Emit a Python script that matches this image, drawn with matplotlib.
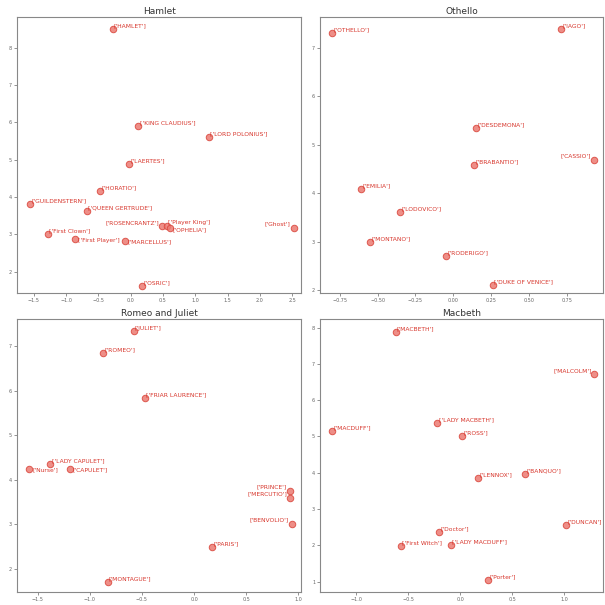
import matplotlib
matplotlib.use("Agg")
import matplotlib.pyplot as plt

# ---------------- data ----------------
hamlet_names = ["HAMLET", "KING CLAUDIUS", "LORD POLONIUS", "LAERTES", "HORATIO",
                "GUILDENSTERN", "QUEEN GERTRUDE", "ROSENCRANTZ", "Player King",
                "OPHELIA", "Ghost", "First Clown", "First Player", "MARCELLUS", "OSRIC"]
hamlet_x = [-0.28, 0.12, 1.21, -0.02, -0.48, -1.56, -0.68, 0.49, 0.56, 0.61, 2.52,
            -1.28, -0.86, -0.09, 0.17]
hamlet_y = [8.50, 5.91, 5.62, 4.89, 4.17, 3.82, 3.62, 3.21, 3.22, 3.16, 3.18,
            3.01, 2.87, 2.83, 1.62]

othello_names = ["OTHELLO", "IAGO", "DESDEMONA", "CASSIO", "BRABANTIO", "EMILIA",
                 "LODOVICO", "MONTANO", "RODERIGO", "DUKE OF VENICE"]
othello_x = [-0.80, 0.71, 0.15, 0.93, 0.14, -0.61, -0.35, -0.55, -0.05, 0.26]
othello_y = [7.30, 7.39, 5.34, 4.69, 4.58, 4.08, 3.61, 2.99, 2.70, 2.10]

romeo_names = ["JULIET", "ROMEO", "FRIAR LAURENCE", "LADY CAPULET", "Nurse",
               "CAPULET", "PRINCE", "MERCUTIO", "BENVOLIO", "PARIS", "MONTAGUE"]
romeo_x = [-0.58, -0.87, -0.47, -1.38, -1.58, -1.19, 0.92, 0.92, 0.94, 0.17, -0.83]
romeo_y = [7.34, 6.86, 5.84, 4.36, 4.25, 4.25, 3.76, 3.60, 3.02, 2.50, 1.71]

macbeth_names = ["MACBETH", "MALCOLM", "LADY MACBETH", "MACDUFF", "ROSS", "LENNOX",
                 "BANQUO", "DUNCAN", "Doctor", "First Witch", "LADY MACDUFF", "Porter"]
macbeth_x = [-0.62, 1.29, -0.22, -1.23, 0.02, 0.17, 0.62, 1.02, -0.20, -0.57, -0.09, 0.27]
macbeth_y = [7.88, 6.71, 5.37, 5.14, 5.00, 3.84, 3.95, 2.56, 2.36, 1.97, 2.02, 1.03]

titles = ["Hamlet", "Othello", "Romeo and Juliet", "Macbeth"]

# ---------------- layout / style ----------------
left_labels = {"ROSENCRANTZ", "Ghost", "CASSIO", "PRINCE", "MERCUTIO", "BENVOLIO",
               "MALCOLM"}
below_labels = {"OPHELIA", "Nurse", "CAPULET", "First Player", "MARCELLUS"}

panels = [
    (titles[0], hamlet_names, hamlet_x, hamlet_y, [0.028, 0.516, 0.470, 0.456],
     (-1.76, 2.64), (1.43, 8.83), [-1.5, -1.0, -0.5, 0.0, 0.5, 1.0, 1.5, 2.0, 2.5],
     [2, 3, 4, 5, 6, 7, 8]),
    (titles[1], othello_names, othello_x, othello_y, [0.529, 0.516, 0.468, 0.456],
     (-0.88, 0.99), (1.94, 7.64), [-0.75, -0.5, -0.25, 0.0, 0.25, 0.5, 0.75],
     [2, 3, 4, 5, 6, 7]),
    (titles[2], romeo_names, romeo_x, romeo_y, [0.028, 0.022, 0.470, 0.451],
     (-1.70, 1.03), (1.49, 7.62), [-1.5, -1.0, -0.5, 0.0, 0.5, 1.0],
     [2, 3, 4, 5, 6, 7]),
    (titles[3], macbeth_names, macbeth_x, macbeth_y, [0.529, 0.022, 0.468, 0.451],
     (-1.346, 1.375), (0.72, 8.24), [-1.0, -0.5, 0.0, 0.5, 1.0],
     [1, 2, 3, 4, 5, 6, 7, 8]),
]

fig = plt.figure(figsize=(6.05, 6.05), dpi=100)

for title, names, xs, ys, rect, xl, yl, xt, yt in panels:
    ax = fig.add_axes(rect)
    ax.scatter(xs, ys, s=22, color="#ec7a72", alpha=0.85, edgecolor="#d9453b",
               linewidth=0.7, zorder=3)
    for n, x, y in zip(names, xs, ys):
        lab = "['%s']" % n
        if n in left_labels:
            ax.annotate(lab, (x, y), xytext=(-2, 1), textcoords="offset points",
                        ha="right", va="bottom", fontsize=4.3, color="#d7342a")
        elif n in below_labels:
            ax.annotate(lab, (x, y), xytext=(2, -1), textcoords="offset points",
                        ha="left", va="center", fontsize=4.3, color="#d7342a")
        else:
            ax.annotate(lab, (x, y), xytext=(1, 0.5), textcoords="offset points",
                        ha="left", va="bottom", fontsize=4.3, color="#d7342a")
    ax.set_xlim(*xl)
    ax.set_ylim(*yl)
    ax.set_xticks(xt)
    ax.set_yticks(yt)
    ax.tick_params(labelsize=3.5, length=2, width=0.5, colors="#666666", pad=1.5)
    for sp in ax.spines.values():
        sp.set_color("#888888")
        sp.set_linewidth(0.8)
    ax.set_title(title, fontsize=6.5, pad=2, color="#333333")

fig.savefig("out.png", dpi=100)
